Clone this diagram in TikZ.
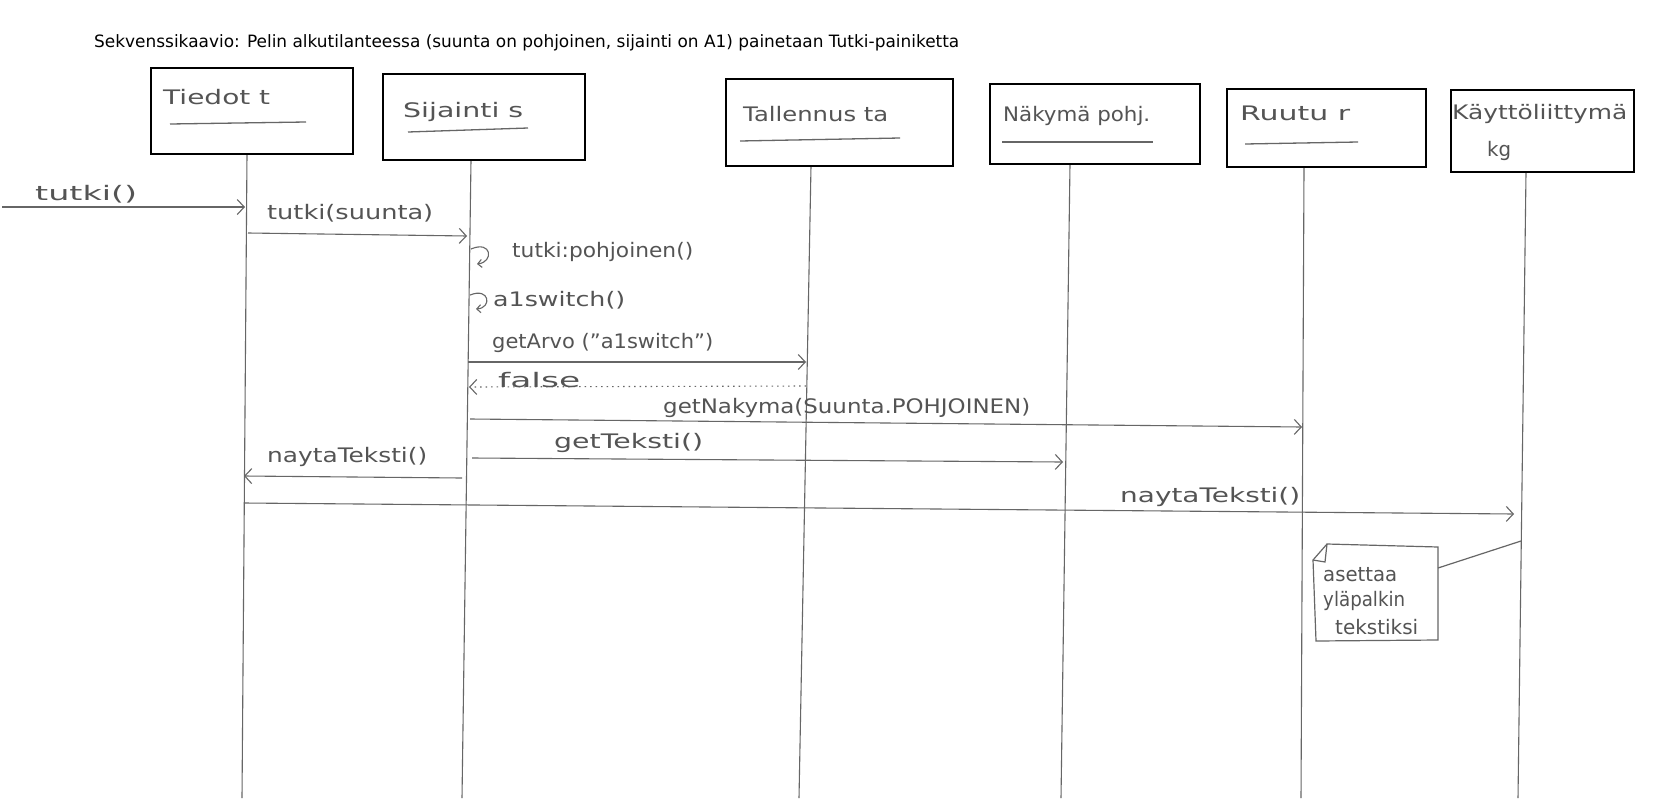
\documentclass[tikz,border=0pt]{standalone}
\usepackage{fontspec}
\setmainfont{DejaVu Sans}
\usetikzlibrary{arrows.meta}
\definecolor{ink}{gray}{0.33}
\definecolor{rule}{gray}{0.40}
% set a label at a fixed width, keeping its natural height
\newcommand\hw[2]{\resizebox{#1pt}{\height}{#2}}

\begin{document}
\begin{tikzpicture}[x=1pt,y=-1pt,
  objbox/.style={draw=black, line width=2.4pt, fill=white, inner sep=0pt},
  life/.style={draw=rule, line width=1.1pt},
  msg/.style={draw=rule, line width=1.1pt, -{Straight Barb[length=7pt,width=15pt,line width=1.1pt]}},
  reply/.style={msg, dash pattern=on 1.5pt off 4pt},
  selfcall/.style={draw=rule, line width=1.1pt, -{Straight Barb[length=4pt,width=8pt,line width=1.1pt]}},
  hand/.style={text=ink, inner sep=0pt, anchor=west, font=\fontsize{20}{22}\selectfont},
  uline/.style={draw=rule, line width=1.3pt},
  notebox/.style={draw=rule, line width=1.2pt, fill=white}]
\useasboundingbox[fill=white] (0,0) rectangle (1670,798);

% title
\node[anchor=base west, inner sep=0pt, font=\fontsize{17}{20}\selectfont] (title) at (94,47)
  {\hw{865}{Sekvenssikaavio: Pelin alkutilanteessa (suunta on pohjoinen, sijainti on A1) painetaan Tutki-painiketta}};

% lifelines
\coordinate (t-top) at (247,154);   \coordinate (t-end) at (242,798);
\coordinate (s-top) at (471,160);   \coordinate (s-end) at (462,798);
\coordinate (ta-top) at (811,166);  \coordinate (ta-end) at (799,798);
\coordinate (p-top) at (1070,164);  \coordinate (p-end) at (1061,798);
\coordinate (r-top) at (1304,167);  \coordinate (r-end) at (1301,798);
\coordinate (kg-top) at (1526,172); \coordinate (kg-end) at (1518,798);
\foreach \o in {t,s,ta,p,r,kg} \draw[life] (\o-top) -- (\o-end);

% objects
\node[objbox, minimum width=202pt, minimum height=86pt] (t) at (252,111) {};
\node[objbox, minimum width=202pt, minimum height=86pt] (s) at (484,117) {};
\node[objbox, minimum width=227pt, minimum height=87pt] (ta) at (839.5,122.5) {};
\node[objbox, minimum width=210pt, minimum height=80pt] (p) at (1095,124) {};
\node[objbox, minimum width=199pt, minimum height=78pt] (r) at (1326.5,128) {};
\node[objbox, minimum width=183pt, minimum height=82pt] (kg) at (1542.5,131) {};

\node[hand] (t-name) at (163,97) {\hw{107}{Tiedot t}};
\draw[uline] (170,124) -- (306,122);
\node[hand] (s-name) at (403,112) {\hw{120}{Sijainti s}};
\draw[uline] (408,132) -- (528,128);
\node[hand] (ta-name) at (743,114) {\hw{145}{Tallennus ta}};
\draw[uline] (740,141) -- (900,138);
\node[hand] (p-name) at (1003,116) {\hw{147}{Näkymä pohj.}};
\draw[uline] (1002,142) -- (1153,142);
\node[hand] (r-name) at (1240,113) {\hw{110}{Ruutu r}};
\draw[uline] (1245,144) -- (1358,142);
\node[hand] (kg-name) at (1452,114) {\hw{175}{Käyttöliittymä}};
\node[hand] (kg-name2) at (1487,151) {\hw{24}{kg}};

% messages
\coordinate (m1a) at (2,207);     \coordinate (m1b) at (245,207);
\draw[msg] (m1a) -- (m1b);
\node[hand] (m1) at (35,194) {\hw{102}{tutki()}};

\coordinate (m2a) at (248,233);   \coordinate (m2b) at (467,236);
\draw[msg] (m2a) -- (m2b);
\node[hand] (m2) at (267,213) {\hw{166}{tutki(suunta)}};

\coordinate (l1a) at (471,249);   \coordinate (l1b) at (477,264);
\draw[selfcall] (l1a) .. controls (492,240) and (494,262) .. (l1b);
\node[hand] (m3) at (512,252) {\hw{181}{tutki:pohjoinen()}};

\coordinate (l2a) at (470,295);   \coordinate (l2b) at (476,309);
\draw[selfcall] (l2a) .. controls (490,287) and (492,308) .. (l2b);
\node[hand] (m4) at (493,300) {\hw{132}{a1switch()}};

\coordinate (m5a) at (468,362);   \coordinate (m5b) at (806,362);
\draw[msg] (m5a) -- (m5b);
\node[hand] (m5) at (492,343) {\hw{221}{getArvo ("a1switch")}};

\coordinate (m6a) at (806,386);   \coordinate (m6b) at (469,387);
\draw[reply] (m6a) -- (m6b);
\node[hand] (m6) at (498,380) {\hw{82}{false}};

\coordinate (m7a) at (470,419);   \coordinate (m7b) at (1302,427);
\draw[msg] (m7a) -- (m7b);
\node[hand] (m7) at (663,408) {\hw{367}{getNakyma(Suunta.POHJOINEN)}};

\coordinate (m8a) at (472,458);   \coordinate (m8b) at (1063,462);
\draw[msg] (m8a) -- (m8b);
\node[hand] (m8) at (554,443) {\hw{149}{getTeksti()}};

\coordinate (m9a) at (462,478);   \coordinate (m9b) at (244,476);
\draw[msg] (m9a) -- (m9b);
\node[hand] (m9) at (267,457) {\hw{160}{naytaTeksti()}};

\coordinate (m10a) at (244,503);  \coordinate (m10b) at (1514,514);
\draw[msg] (m10a) -- (m10b);
\node[hand] (m10) at (1120,497) {\hw{180}{naytaTeksti()}};

% note with folded corner, attached to the kg lifeline
\draw[notebox] (1327,544) -- (1438,547) -- (1438,640) -- (1316,641) -- (1313,560) -- cycle;
\draw[draw=rule, line width=1.2pt] (1327,544) -- (1325,562) -- (1313,560);
\coordinate (note-pin) at (1438,568);  \coordinate (kg-pin) at (1521,541);
\draw[draw=rule, line width=1.2pt] (note-pin) -- (kg-pin);
\node[hand] (n1) at (1323,575) {\hw{74}{asettaa}};
\node[hand] (n2) at (1323,601) {\hw{82}{yläpalkin}};
\node[hand] (n3) at (1335,627) {\hw{83}{tekstiksi}};
\end{tikzpicture}
\end{document}
